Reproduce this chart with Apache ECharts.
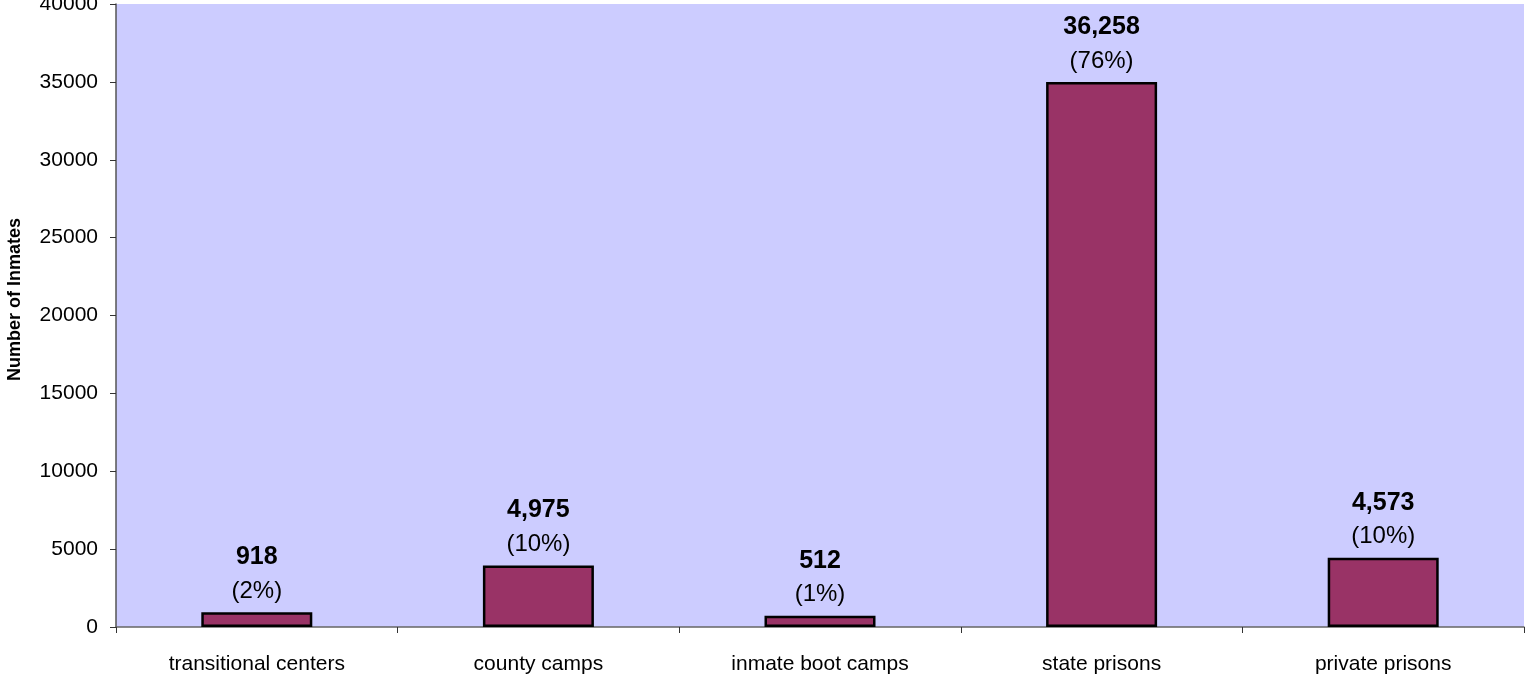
<!DOCTYPE html>
<html>
<head>
<meta charset="utf-8">
<script src="https://cdn.jsdelivr.net/npm/echarts@6/dist/echarts.min.js"></script>
<style>
html,body{margin:0;padding:0;background:#fff;}
#chart{width:1526px;height:676px;}
</style>
</head>
<body>
<div id="chart"></div>
<script>
var categories = ['transitional centers', 'county camps', 'inmate boot camps', 'state prisons', 'private prisons'];
var barValues = [950, 3950, 720, 35000, 4450];
var valueLabels = ['918', '4,975', '512', '36,258', '4,573'];
var pctLabels = ['(2%)', '(10%)', '(1%)', '(76%)', '(10%)'];
var yTicks = { min: 0, max: 40000, interval: 5000 };

var chart = echarts.init(document.getElementById('chart'));
var fontFam = 'Liberation Sans, Arial, sans-serif';
chart.setOption({
  animation: false,
  backgroundColor: '#ffffff',
  grid: { left: 116, right: 2, top: 4, bottom: 49, show: true, backgroundColor: '#CCCCFF', borderWidth: 0, containLabel: false, outerBoundsMode: 'none' },
  xAxis: {
    type: 'category',
    data: categories,
    axisLine: { show: true, lineStyle: { color: '#666666', width: 1.5 } },
    axisTick: { show: true, alignWithLabel: false, length: 6, lineStyle: { color: '#333' } },
    axisLabel: { color: '#000', fontSize: 21, fontFamily: fontFam, margin: 27, interval: 0 }
  },
  yAxis: {
    type: 'value',
    min: yTicks.min, max: yTicks.max, interval: yTicks.interval,
    name: 'Number of Inmates',
    nameLocation: 'middle',
    nameGap: 92,
    nameTextStyle: { color: '#000', fontSize: 18, fontWeight: 'bold', fontFamily: fontFam, padding: [0, 0, 0, 32] },
    axisLine: { show: true, lineStyle: { color: '#555555', width: 1.5 } },
    axisTick: { show: true, length: 6, lineStyle: { color: '#333' } },
    splitLine: { show: false },
    axisLabel: { color: '#000', fontSize: 21, fontFamily: fontFam, margin: 18, formatter: function (v) { return String(v); } }
  },
  series: [{
    type: 'bar',
    data: barValues,
    barWidth: 111,
    itemStyle: { color: '#993366', borderColor: '#000', borderWidth: 2.5 },
    label: {
      show: true,
      position: 'top',
      distance: 4,
      formatter: function (p) {
        return '{v|' + valueLabels[p.dataIndex] + '}\n{p|' + pctLabels[p.dataIndex] + '}';
      },
      rich: {
        v: { fontSize: 25, fontWeight: 'bold', color: '#000', fontFamily: fontFam, lineHeight: 34 },
        p: { fontSize: 24, color: '#000', fontFamily: fontFam, lineHeight: 34 }
      }
    }
  }]
});
</script>
</body>
</html>
